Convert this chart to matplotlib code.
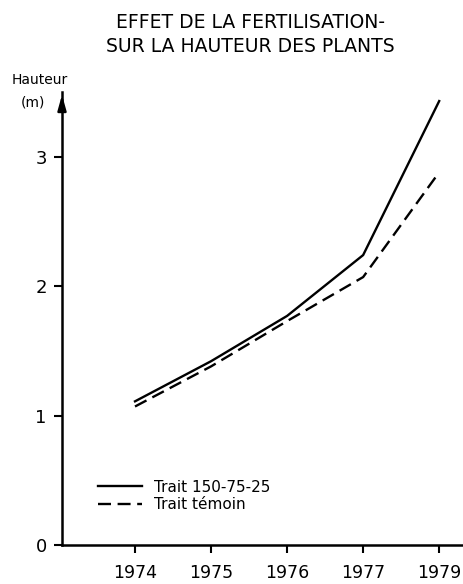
import matplotlib.pyplot as plt
import numpy as np

years = ["1974", "1975", "1976", "1977", "1979"]
trait_150 = [1.11, 1.42, 1.77, 2.24, 3.43]
trait_temoin = [1.07, 1.38, 1.73, 2.07, 2.88]
y_ticks = [0, 1, 2, 3]

plt.rcParams['font.family'] = ['DejaVu Sans']

fig = plt.figure(figsize=(4.64, 5.84), dpi=100)
ax = fig.add_axes([62 / 464, 39 / 584, 400 / 464, 453 / 584])

x = np.arange(len(years))
ax.plot(x, trait_150, color='black', linewidth=1.7, label='Trait 150-75-25')
ax.plot(x, trait_temoin, color='black', linewidth=1.7, linestyle=(0, (5.5, 2.8)),
        label='Trait témoin')

ax.set_xlim(-0.96, 4.3)
ax.set_ylim(0, 3.5)
ax.set_xticks(x)
ax.set_xticklabels(years, fontsize=12.5)
ax.set_yticks(y_ticks)
ax.set_yticklabels([str(v) for v in y_ticks], fontsize=13)
ax.tick_params(axis='both', direction='out', length=6, width=1.5, pad=5)
ax.tick_params(axis='x', pad=8)

for side in ['top', 'right']:
    ax.spines[side].set_visible(False)
for side in ['left', 'bottom']:
    ax.spines[side].set_linewidth(1.8)

# arrow head at the top of the y axis
ax.annotate('', xy=(0, 1.0), xytext=(0, 0.96), xycoords='axes fraction',
            arrowprops=dict(arrowstyle='-|>,head_length=0.9,head_width=0.25',
                            color='black', lw=1.8))

fig.text(40 / 464, 1 - 80 / 584, 'Hauteur', ha='center', va='center', fontsize=10,
         fontweight='medium')
fig.text(33 / 464, 1 - 103 / 584, '(m)', ha='center', va='center', fontsize=10,
         fontweight='medium')

fig.text(250 / 464, 1 - 22 / 584, 'EFFET DE LA FERTILISATION-', ha='center', va='center',
         fontsize=13.5)
fig.text(250 / 464, 1 - 47 / 584, 'SUR LA HAUTEUR DES PLANTS', ha='center', va='center',
         fontsize=13.5)

ax.legend(loc='lower left', bbox_to_anchor=(0.07, 0.055), frameon=False, fontsize=11,
          handlelength=2.9, handletextpad=0.8, labelspacing=0.18, borderpad=0)

fig.savefig('out.png', dpi=100)
